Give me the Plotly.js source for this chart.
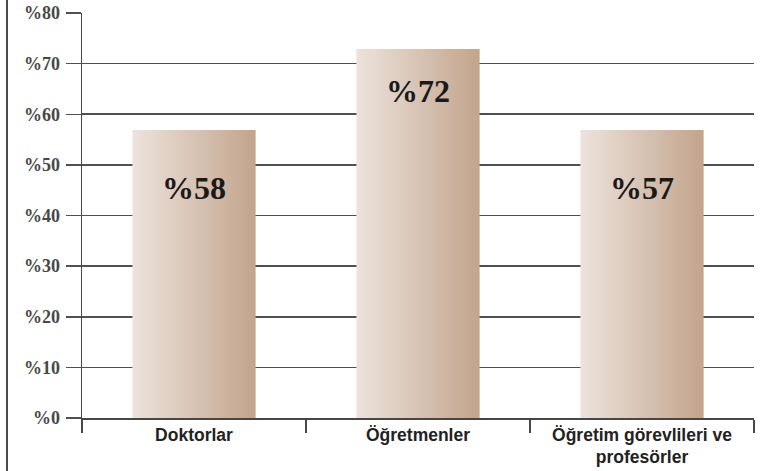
<!DOCTYPE html>
<html>
<head>
<meta charset="utf-8">
<script src="https://cdn.plot.ly/plotly-3.0.1.min.js"></script>
<style>
  html, body { margin: 0; padding: 0; background: #fff; }
  #wrap { position: relative; width: 763px; height: 471px; }
  #chart { width: 763px; height: 471px; }
  #frame { position: absolute; left: 6px; top: 0; width: 2px; height: 471px; background: #4a4a4a; }
</style>
</head>
<body>
<div id="wrap">
  <div id="chart"></div>
  <div id="frame"></div>
</div>
<script>
// Data
const categories = ["Doktorlar", "Öğretmenler", "Öğretim görevlileri ve<br>profesörler"];
const barValues = [56.9, 72.9, 56.9];
const barLabels = ["%58", "%72", "%57"];
const tickValues = [0, 10, 20, 30, 40, 50, 60, 70, 80];
const tickLabels = ["%0", "%10", "%20", "%30", "%40", "%50", "%60", "%70", "%80"];

// label vertical placement (layout constants)
const labelY = [45.5, 64.5, 45.5];

const trace = {
  type: "bar",
  x: categories,
  y: barValues,
  marker: { color: "#d6c3b5", line: { width: 0 } },
  hoverinfo: "none"
};

const annotations = categories.map((c, i) => ({
  x: c, y: labelY[i], xref: "x", yref: "y",
  text: barLabels[i], showarrow: false,
  xanchor: "center", yanchor: "middle",
  font: { family: "Liberation Serif, Times New Roman, serif", size: 32, color: "#1a1a1a", weight: "bold" }
}));

const layout = {
  width: 763, height: 471,
  margin: { l: 82, r: 9, t: 13, b: 53 },
  paper_bgcolor: "#ffffff",
  plot_bgcolor: "#ffffff",
  showlegend: false,
  bargap: 0.45,
  xaxis: {
    type: "category",
    showline: true, linecolor: "#474747", linewidth: 1.5,
    ticks: "outside", tickson: "boundaries", ticklen: 13, tickwidth: 1.5, tickcolor: "#474747",
    showgrid: false, zeroline: false,
    ticklabelstandoff: 0,
    tickfont: { family: "Liberation Sans, Arial, sans-serif", size: 17.5, color: "#222222", weight: "bold" }
  },
  yaxis: {
    range: [0, 80],
    tickvals: tickValues, ticktext: tickLabels,
    showline: true, linecolor: "#474747", linewidth: 1.5,
    ticks: "outside", ticklen: 15, tickwidth: 1.5, tickcolor: "#505050",
    showgrid: true, gridcolor: "#505050", gridwidth: 1.6,
    zeroline: false,
    ticklabelstandoff: 2,
    tickfont: { family: "Liberation Serif, Times New Roman, serif", size: 18, color: "#484848", weight: "bold" }
  },
  annotations: annotations
};

Plotly.newPlot("chart", [trace], layout, { displayModeBar: false, staticPlot: true }).then(function (gd) {
  const svgNS = "http://www.w3.org/2000/svg";
  const svg = gd.querySelector("svg.main-svg");
  let defs = svg.querySelector("defs");
  if (!defs) { defs = document.createElementNS(svgNS, "defs"); svg.insertBefore(defs, svg.firstChild); }
  const grad = document.createElementNS(svgNS, "linearGradient");
  grad.setAttribute("id", "barGrad");
  grad.setAttribute("x1", "0"); grad.setAttribute("y1", "0");
  grad.setAttribute("x2", "1"); grad.setAttribute("y2", "0");
  [["0%", "#ece3dd"], ["100%", "#c3a48c"]].forEach(function (s) {
    const st = document.createElementNS(svgNS, "stop");
    st.setAttribute("offset", s[0]);
    st.setAttribute("stop-color", s[1]);
    grad.appendChild(st);
  });
  defs.appendChild(grad);
  gd.querySelectorAll(".bars .point path").forEach(function (p) {
    p.style.fill = "url(#barGrad)";
  });
});
</script>
</body>
</html>
